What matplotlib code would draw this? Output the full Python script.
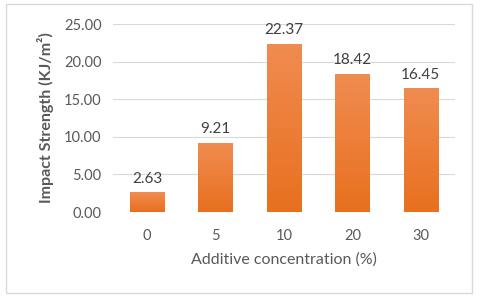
import numpy as np
import matplotlib
matplotlib.use("Agg")
from matplotlib import pyplot as plt
from matplotlib.patches import Rectangle

categories = ["0", "5", "10", "20", "30"]
impact = [2.63, 9.21, 22.37, 18.42, 16.45]
yticks = [0, 5, 10, 15, 20, 25]

plt.rcParams['font.family'] = ['Lato', 'DejaVu Sans']
text_col = "#595959"

fig = plt.figure(figsize=(4.8, 2.97), dpi=100)
fig.patches.append(Rectangle((0.012, 0.015), 0.972, 0.972, transform=fig.transFigure,
                             fill=False, edgecolor="#D9D9D9", linewidth=1.0))
ax = fig.add_axes([0.235, 0.286, 0.713, 0.633])

x = np.arange(len(categories))
bars = ax.bar(x, impact, width=0.5, color="#ED7D31", zorder=3)

# vertical gradient on the bars (lighter at top)
grad = np.linspace(0, 1, 256).reshape(-1, 1)
cmap = matplotlib.colors.LinearSegmentedColormap.from_list("o", ["#E8701F", "#F08C50"])
for b in bars:
    bx, by = b.get_x(), b.get_y()
    bw, bh = b.get_width(), b.get_height()
    im = ax.imshow(grad, cmap=cmap, aspect="auto", origin="lower",
                   extent=(bx, bx + bw, by, by + bh), zorder=4)
    im.set_clip_path(b)

for xi, v in zip(x, impact):
    ax.text(xi, v + 0.9, "%.2f" % v, ha="center", va="bottom", fontsize=11, color="#404040")

ax.set_xlim(-0.5, len(categories) - 0.5)
ax.set_ylim(0, 25)
ax.set_yticks(yticks)
ax.set_yticklabels(["%.2f" % t for t in yticks])
ax.set_xticks(x)
ax.set_xticklabels(categories)
ax.grid(axis="y", color="#D9D9D9", linewidth=0.8, zorder=0)
for s in ax.spines.values():
    s.set_visible(False)
ax.tick_params(length=0, labelsize=10.5, colors=text_col, pad=8)
ax.tick_params(axis="x", pad=12)
ax.set_xlabel("Additive concentration (%)", fontsize=11.5, color=text_col, labelpad=7)
ax.set_ylabel("Impact Strength (KJ/m²)", fontsize=11.5, color=text_col, fontweight="bold", labelpad=7)

fig.savefig("out.png", dpi=100)
